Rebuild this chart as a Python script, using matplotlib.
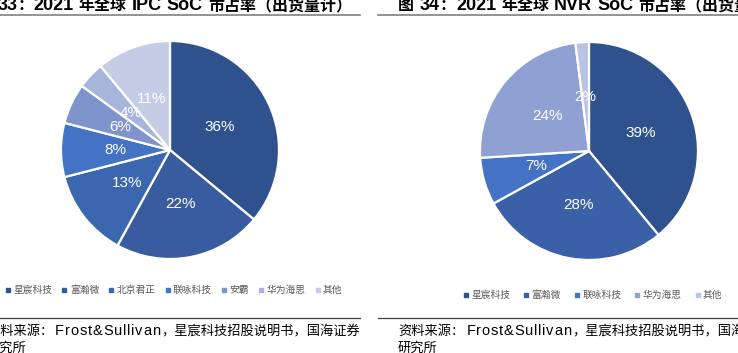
import matplotlib
matplotlib.use("Agg")
import matplotlib.pyplot as plt
from matplotlib.lines import Line2D

plt.rcParams['font.family'] = ['Liberation Sans', 'Noto Sans CJK SC', 'DejaVu Sans']

# IPC SoC share (left)
ipc_names = ['星宸科技', '富瀚微', '北京君正', '联咏科技', '安霸', '华为海思', '其他']
ipc_share = [36, 22, 13, 8, 6, 4, 11]
ipc_colors = ['#2F528F', '#385C9F', '#3B66B0', '#4472C4', '#7F93CD', '#A7B4DB', '#C5CDE6']

# NVR SoC share (right)
nvr_names = ['星宸科技', '富瀚微', '联咏科技', '华为海思', '其他']
nvr_share = [39, 28, 7, 24, 2]
nvr_colors = ['#2F528F', '#3A60A8', '#4472C4', '#8EA1D2', '#B9C3E2']

W, H = 738, 353
fig = plt.figure(figsize=(W / 100, H / 100), dpi=100)
renderer = fig.canvas.get_renderer()

def px(x, y):
    return x / W, 1 - y / H

def text_w(s, kw):
    t = fig.text(0, 0, s, **kw)
    w = t.get_window_extent(renderer).width
    t.remove()
    return w

def adv(c, kw):
    # advance width of one char (ink box of "|c|" minus "||")
    return text_w('|' + c + '|', kw) - text_w('||', kw)

def part_w(p):
    if isinstance(p, (int, float)):
        return p
    s, kw, track = p
    if track:
        return sum(adv(c, kw) + track for c in s)
    return text_w(s, kw)

# draws pieces of text one after another on a baseline (mixed fonts/sizes)
def chain(x, y, parts, align='left'):
    if align == 'right':
        x -= sum(part_w(p) for p in parts)
    for p in parts:
        if isinstance(p, (int, float)):
            x += p
            continue
        s, kw, track = p
        if not track:
            fig.text(*px(x, y), s, ha='left', va='baseline', **kw)
            x += text_w(s, kw)
            continue
        for c in s:
            fig.text(*px(x, y), c, ha='left', va='baseline', **kw)
            x += adv(c, kw) + track

def draw_pie(cx, cy, r, vals, cols):
    ax = fig.add_axes([(cx - r) / W, (H - cy - r) / H, 2 * r / W, 2 * r / H])
    ax.pie(vals, colors=cols, startangle=90, counterclock=False,
           autopct=lambda p: f'{p:.0f}%', pctdistance=0.5,
           wedgeprops=dict(edgecolor='white', linewidth=1.6),
           textprops=dict(color='white', fontsize=11, family='Liberation Sans'))
    ax.set_xlim(-1.0, 1.0)
    ax.set_ylim(-1.0, 1.0)
    ax.set_aspect('equal')
    ax.axis('off')

draw_pie(170, 150, 109, ipc_share, ipc_colors)
draw_pie(589, 151, 109, nvr_share, nvr_colors)

def legend(names, cols, cx, cy, spacing):
    handles = [Line2D([], [], marker='s', linestyle='', markersize=3,
                      markerfacecolor=c, markeredgecolor=c) for c in cols]
    fig.legend(handles, names, loc='center', bbox_to_anchor=px(cx, cy),
               ncol=len(names), frameon=False, handlelength=0.5,
               handletextpad=0.3, columnspacing=spacing, labelcolor='#595959',
               prop=dict(family=['Noto Sans CJK SC'], size=7))

legend(ipc_names, ipc_colors, 174, 290, 1.0)
legend(nvr_names, nvr_colors, 593, 295, 1.4)

# titles (cut off at the top like the source screenshot)
TC = dict(family=['Noto Sans CJK SC'], fontsize=11.5, fontweight='bold', color='black')
TL = dict(family=['Liberation Sans'], fontsize=13, fontweight='bold', color='black')

def title(num, kind):
    return [('图', TC, 0), 6, (num, TL, 0), ('：', TC, 0), ('2021', TL, 0), 5,
            ('年全球', TC, 0), 5, (kind, TL, 0), 5, ('SoC', TL, 0), 5,
            ('市占率（出货量计）', TC, 0)]

chain(352, 10, title('33', 'IPC'), align='right')
chain(398, 10, title('34', 'NVR'))

# rules
for x0, x1 in [(0, 360), (378, 738)]:
    fig.add_artist(Line2D([x0 / W, x1 / W], [1 - 15 / H] * 2, color='#808080', linewidth=1.2))
    fig.add_artist(Line2D([x0 / W, x1 / W], [1 - 318 / H] * 2, color='#404040', linewidth=0.9))

# sources
SC = dict(family=['Noto Sans CJK SC'], fontsize=9.5, color='black')
SL = dict(family=['Liberation Sans'], fontsize=10.5, color='black')

def source(x0):
    chain(x0, 335, [('资料来源：', SC, 0), 2, ('Frost&Sullivan', SL, 0.8),
                    ('，星宸科技招股说明书，国海证券', SC, 0)])
    chain(x0, 352, [('研究所', SC, 0)])

source(-13)
source(398)

fig.savefig('out.png', dpi=100)
